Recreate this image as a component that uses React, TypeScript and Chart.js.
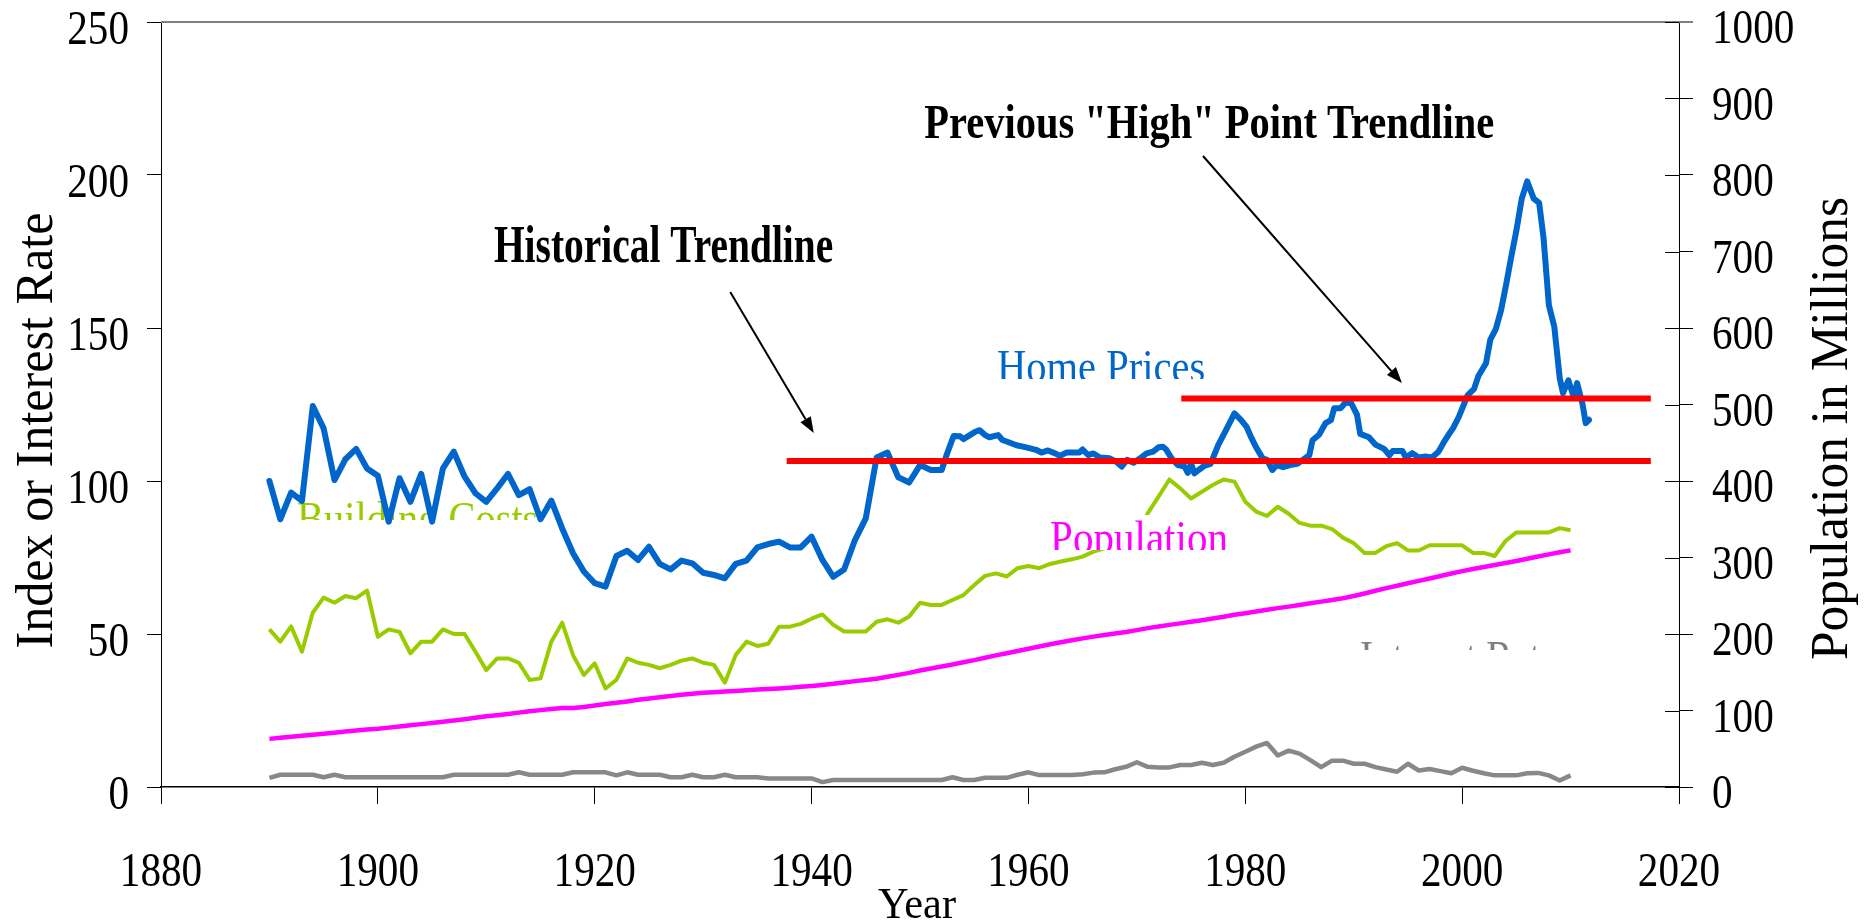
import React, { useEffect, useRef } from "react";
import { Chart, registerables } from "chart.js";

Chart.register(...registerables);

const W = 1868;
const H = 923;

// ---------- tick labels ----------
const xTicks = [1880, 1900, 1920, 1940, 1960, 1980, 2000, 2020];
const leftTicks = [0, 50, 100, 150, 200, 250];
const rightTicks = [0, 100, 200, 300, 400, 500, 600, 700, 800, 900, 1000];

// ---------- annual series 1890..2010 ----------
const annualYears = Array.from({ length: 121 }, (_, i) => 1890 + i);

const buildingCosts = [
  51.5, 47.5, 52.5, 44.2, 57.0, 61.9, 60.2, 62.4, 61.7, 64.2,
  49.1, 51.5, 50.7, 43.7, 47.5, 47.5, 51.5, 50.0, 50.0, 44.2,
  38.2, 42.0, 42.0, 40.6, 35.0, 35.5, 47.5, 53.7, 43.1, 36.6,
  40.4, 32.2, 35.0, 42.0, 40.6, 39.9, 38.8, 39.9, 41.3, 42.0,
  40.6, 39.9, 34.1, 43.1, 47.5, 46.1, 46.8, 52.4, 52.4, 53.3,
  55.0, 56.4, 53.0, 50.8, 50.8, 50.8, 54.0, 54.8, 53.7, 55.7,
  60.2, 59.5, 59.5, 61.1, 62.7, 66.0, 69.0, 69.8, 68.8, 71.5,
  72.2, 71.5, 72.9, 73.7, 74.4, 75.3, 76.9, 78.0, 79.6, 81.8,
  83.1, 89.4, 94.9, 100.5, 97.6, 94.3, 96.5, 98.7, 100.5, 99.8,
  93.2, 90.0, 88.6, 91.6, 89.3, 86.3, 85.4, 85.4, 84.3, 81.5,
  79.7, 76.5, 76.5, 78.7, 79.7, 77.3, 77.3, 79.0, 79.0, 79.0,
  79.0, 76.5, 76.5, 75.5, 80.4, 83.2, 83.2, 83.2, 83.2, 84.6, 83.9,
];

const population = [
  62.9, 64.4, 65.7, 67.0, 68.3, 69.6, 71.0, 72.4, 73.8, 75.1,
  76.1, 77.6, 79.2, 80.6, 82.2, 83.8, 85.4, 87.0, 88.7, 90.5,
  92.4, 93.9, 95.3, 97.2, 99.1, 100.5, 102.0, 103.3, 103.2, 104.5,
  106.5, 108.5, 110.0, 111.9, 114.1, 115.8, 117.4, 119.0, 120.5, 121.8,
  123.1, 124.0, 124.8, 125.6, 126.4, 127.3, 128.1, 128.8, 129.8, 130.9,
  132.1, 133.4, 134.9, 136.7, 138.4, 139.9, 141.4, 144.1, 146.6, 149.2,
  152.3, 154.9, 157.6, 160.2, 163.0, 165.9, 168.9, 172.0, 174.9, 177.8,
  180.7, 183.7, 186.5, 189.2, 191.9, 194.3, 196.6, 198.7, 200.7, 202.7,
  205.1, 207.7, 209.9, 211.9, 213.9, 216.0, 218.0, 220.2, 222.6, 225.1,
  227.2, 229.5, 231.7, 233.8, 235.8, 237.9, 240.1, 242.3, 244.5, 246.8,
  249.6, 253.0, 256.5, 259.9, 263.1, 266.3, 269.4, 272.6, 275.9, 279.0,
  282.2, 285.0, 287.6, 290.1, 292.8, 295.5, 298.4, 301.2, 304.1, 306.8, 309.3,
];

const interestRates = [
  3.0, 4.0, 4.0, 4.0, 4.0, 3.2, 4.0, 3.2, 3.2, 3.2,
  3.2, 3.2, 3.2, 3.2, 3.2, 3.2, 3.2, 4.0, 4.0, 4.0,
  4.0, 4.0, 4.0, 4.8, 4.0, 4.0, 4.0, 4.0, 4.8, 4.8,
  4.8, 4.8, 3.8, 4.8, 4.0, 4.0, 4.0, 3.2, 3.2, 4.0,
  3.2, 3.2, 4.0, 3.2, 3.2, 3.2, 2.8, 2.8, 2.8, 2.8,
  2.8, 1.6, 2.3, 2.3, 2.3, 2.3, 2.3, 2.3, 2.3, 2.3,
  2.3, 2.3, 2.3, 3.2, 2.3, 2.3, 3.0, 3.0, 3.0, 4.0,
  4.8, 3.9, 3.9, 3.9, 3.9, 4.2, 4.7, 4.8, 5.8, 6.6,
  8.1, 6.6, 6.4, 6.4, 7.2, 7.2, 7.9, 7.2, 7.9, 9.9,
  11.5, 13.2, 14.4, 10.3, 11.9, 10.9, 8.8, 6.5, 8.6, 8.6,
  7.6, 7.6, 6.5, 5.7, 5.0, 7.6, 5.4, 5.9, 5.2, 4.5,
  6.3, 5.3, 4.5, 3.8, 3.8, 3.8, 4.5, 4.6, 3.8, 2.1, 3.8,
];

// ---------- home prices (annual, then finer) ----------
const homeYears = [
  1890, 1891, 1892, 1893, 1894, 1895, 1896, 1897, 1898, 1899,
  1900, 1901, 1902, 1903, 1904, 1905, 1906, 1907, 1908, 1909,
  1910, 1911, 1912, 1913, 1914, 1915, 1916, 1917, 1918, 1919,
  1920, 1921, 1922, 1923, 1924, 1925, 1926, 1927, 1928, 1929,
  1930, 1931, 1932, 1933, 1934, 1935, 1936, 1937, 1938, 1939,
  1940, 1941, 1942, 1943, 1944, 1945, 1946, 1947, 1948, 1949,
  1950, 1951, 1952, 1952.5, 1953.1, 1953.7, 1954.0, 1954.6, 1955.1, 1955.5,
  1956.0, 1956.4, 1957.2, 1957.6, 1958.3, 1958.9, 1959.8, 1960.7, 1961.2, 1961.8,
  1962.6, 1962.9, 1963.5, 1964.7, 1965.0, 1965.5, 1966.0, 1966.6, 1967.5, 1968.1,
  1968.6, 1969.1, 1969.7, 1970.3, 1970.9, 1971.5, 1972.0, 1972.4, 1972.7, 1973.2,
  1973.8, 1974.4, 1974.7, 1975.0, 1975.3, 1975.7, 1976.2, 1976.8, 1977.5, 1978.3,
  1979.0, 1979.6, 1980.1, 1980.5, 1981.0, 1981.6, 1982.0, 1982.5, 1982.9, 1983.5,
  1984.1, 1984.8, 1985.9, 1986.2, 1986.8, 1987.4, 1987.9, 1988.2, 1988.8, 1989.3,
  1989.8, 1990.3, 1990.6, 1991.4, 1992.0, 1992.8, 1993.3, 1993.6, 1994.5, 1994.8,
  1995.4, 1996.0, 1996.6, 1997.2, 1997.8, 1998.3, 1998.8, 1999.2, 1999.7, 2000.5,
  2001.1, 2001.5, 2002.2, 2002.6, 2003.1, 2003.6, 2004.1, 2004.5, 2005.0, 2005.5,
  2006.0, 2006.6, 2007.1, 2007.5, 2008.0, 2008.5, 2009.0, 2009.3, 2009.8, 2010.3,
  2010.6, 2011.1, 2011.4, 2011.7,
];
const homePrices = [
  100.0, 87.5, 96.2, 93.5, 124.5, 117.2, 100.3, 107.1, 110.5, 104.1,
  101.7, 86.7, 100.9, 93.2, 102.3, 86.7, 104.1, 109.6, 101.4, 96.0,
  93.2, 97.6, 102.3, 95.4, 97.3, 87.5, 93.6, 84.5, 76.4, 70.4,
  66.6, 65.5, 75.5, 77.2, 74.2, 78.5, 72.9, 71.1, 74.0, 73.1,
  70.0, 69.3, 68.2, 72.9, 74.0, 78.3, 79.4, 80.2, 78.3, 78.3,
  81.8, 74.2, 68.7, 71.1, 80.7, 87.8, 107.7, 109.3, 101.2, 99.5,
  105.2, 103.6, 103.6, 109.0, 114.7, 114.6, 113.7, 115.0, 116.1, 116.6,
  115.0, 114.3, 115.0, 113.4, 112.5, 111.7, 111.0, 110.2, 109.3, 110.0,
  108.8, 108.2, 109.3, 109.3, 110.3, 108.5, 109.0, 107.7, 107.4, 106.3,
  104.7, 106.9, 106.0, 107.4, 109.0, 109.6, 111.0, 111.2, 110.3, 107.4,
  105.2, 104.7, 102.7, 105.7, 102.5, 103.6, 104.9, 105.6, 111.7, 117.2,
  122.1, 120.0, 117.8, 114.6, 111.0, 107.4, 106.9, 103.6, 105.2, 104.5,
  105.2, 105.6, 108.4, 113.3, 115.1, 118.9, 119.9, 123.8, 123.8, 125.9,
  125.2, 121.7, 115.4, 114.3, 111.9, 110.5, 108.4, 109.8, 109.8, 107.7,
  109.1, 107.7, 108.0, 107.7, 109.5, 112.6, 115.4, 117.5, 121.0, 128.0,
  130.1, 134.3, 138.5, 146.2, 149.6, 156.0, 165.0, 172.7, 181.8, 192.3,
  197.9, 192.3, 190.9, 179.7, 157.4, 150.4, 133.6, 128.7, 132.9, 127.3,
  132.0, 125.2, 118.9, 120.0,
];

// ---------- trendlines ----------
const historicalTrendYears = [1937.7, 2017.4];
const historicalTrendValues = [106.5, 106.5];
const highTrendYears = [1974.1, 2017.4];
const highTrendValues = [127.0, 127.0];

const SERIF = '"Liberation Serif", "Times New Roman", serif';
const TICK_FONT = `49px ${SERIF}`;
const TICK_SX = 0.84;

type Pt = { x: number; y: number };
const pts = (xs: number[], ys: number[]): Pt[] => xs.map((x, i) => ({ x, y: ys[i] }));

function drawScaled(
  ctx: CanvasRenderingContext2D,
  text: string,
  x: number,
  y: number,
  font: string,
  color: string,
  align: CanvasTextAlign,
  sx: number,
  rotate = 0
) {
  ctx.save();
  ctx.translate(x, y);
  if (rotate) ctx.rotate(rotate);
  ctx.scale(sx, 1);
  ctx.font = font;
  ctx.fillStyle = color;
  ctx.textAlign = align;
  ctx.textBaseline = "alphabetic";
  ctx.fillText(text, 0, 0);
  ctx.restore();
}

function fitScale(ctx: CanvasRenderingContext2D, text: string, font: string, width: number) {
  ctx.save();
  ctx.font = font;
  const w = ctx.measureText(text).width;
  ctx.restore();
  return width / w;
}

function drawArrow(ctx: CanvasRenderingContext2D, x1: number, y1: number, x2: number, y2: number) {
  const ang = Math.atan2(y2 - y1, x2 - x1);
  const headLen = 16;
  const headW = 6;
  const bx = x2 - headLen * Math.cos(ang);
  const by = y2 - headLen * Math.sin(ang);
  ctx.save();
  ctx.strokeStyle = "#000";
  ctx.lineWidth = 2;
  ctx.beginPath();
  ctx.moveTo(x1, y1);
  ctx.lineTo(bx, by);
  ctx.stroke();
  ctx.fillStyle = "#000";
  ctx.beginPath();
  ctx.moveTo(x2, y2);
  ctx.lineTo(bx + headW * Math.sin(ang), by - headW * Math.cos(ang));
  ctx.lineTo(bx - headW * Math.sin(ang), by + headW * Math.cos(ang));
  ctx.closePath();
  ctx.fill();
  ctx.restore();
}

// annotation anchors in data units (year, left-axis value)
const arrows = [
  { from: [1932.5, 161.8], to: [1940.2, 115.7] },
  { from: [1976.1, 206.2], to: [1994.45, 132.0] },
];
const boldNotes = [
  { text: "Historical Trendline", x0: 1910.7, x1: 1942.0, base: 171.6, size: 53 },
  { text: 'Previous "High" Point Trendline', x0: 1950.4, x1: 2002.95, base: 212.1, size: 48 },
];
const seriesLabels = [
  { text: "Building Costs", color: "#99CC00", x0: 1892.55, x1: 1914.8, base: 82.7, clip: 87.25, box: false, front: false },
  { text: "Home Prices", color: "#0066CC", x0: 1957.1, x1: 1976.3, base: 132.3, clip: 133.3, box: false, front: true },
  { text: "Population", color: "#FF00FF", x0: 1962.0, x1: 1978.4, base: 76.5, clip: 77.45, box: true, front: true },
  { text: "Interest Rates", color: "#808080", x0: 1990.58, x1: 2010.2, base: 37.25, clip: 44.8, box: false, front: true },
];

function drawSeriesLabel(chart: any, lab: any) {
  const { ctx, scales } = chart;
  const x = scales.x;
  const y = scales.y;
  const px0 = x.getPixelForValue(lab.x0);
  const px1 = x.getPixelForValue(lab.x1);
  const base = y.getPixelForValue(lab.base);
  const clipY = y.getPixelForValue(lab.clip);
  const font = `47px ${SERIF}`;
  const sx = fitScale(ctx, lab.text, font, px1 - px0);
  ctx.save();
  if (lab.box) {
    ctx.fillStyle = "#FFFFFF";
    ctx.fillRect(px0 - 4, base - 38, px1 - px0 + 8, clipY - (base - 38));
  }
  ctx.beginPath();
  ctx.rect(px0 - 10, 0, px1 - px0 + 20, clipY);
  ctx.clip();
  drawScaled(ctx, lab.text, px0, base, font, lab.color, "left", sx);
  ctx.restore();
}

const annotationPlugin = {
  id: "annotationText",
  beforeDatasetsDraw(chart: any) {
    seriesLabels.filter((l) => !l.front).forEach((l) => drawSeriesLabel(chart, l));
  },
  afterDatasetsDraw(chart: any) {
    const { ctx, chartArea, scales } = chart;
    const x = scales.x;
    const y = scales.y;
    const y2 = scales.y2;

    // top border
    ctx.save();
    ctx.strokeStyle = "#808080";
    ctx.lineWidth = 2;
    ctx.beginPath();
    ctx.moveTo(chartArea.left, chartArea.top);
    ctx.lineTo(chartArea.right + 14, chartArea.top);
    ctx.stroke();
    // inward half of right-axis ticks
    ctx.strokeStyle = "#000";
    ctx.lineWidth = 1;
    y2.ticks.forEach((t: any) => {
      const py = Math.round(y2.getPixelForValue(t.value)) + 0.5;
      ctx.beginPath();
      ctx.moveTo(chartArea.right - 14, py);
      ctx.lineTo(chartArea.right, py);
      ctx.stroke();
    });
    ctx.restore();

    seriesLabels.filter((l) => l.front).forEach((l) => drawSeriesLabel(chart, l));

    arrows.forEach((a) =>
      drawArrow(
        ctx,
        x.getPixelForValue(a.from[0]),
        y.getPixelForValue(a.from[1]),
        x.getPixelForValue(a.to[0]),
        y.getPixelForValue(a.to[1])
      )
    );

    boldNotes.forEach((n) => {
      const font = `bold ${n.size}px ${SERIF}`;
      const px0 = x.getPixelForValue(n.x0);
      const px1 = x.getPixelForValue(n.x1);
      const sx = fitScale(ctx, n.text, font, px1 - px0);
      drawScaled(ctx, n.text, px0, y.getPixelForValue(n.base), font, "#000", "left", sx);
    });
  },
  afterDraw(chart: any) {
    const { ctx, chartArea, scales } = chart;
    const x = scales.x;
    const y = scales.y;
    const y2 = scales.y2;

    x.ticks.forEach((t: any) =>
      drawScaled(ctx, String(t.value), x.getPixelForValue(t.value), chartArea.bottom + 99, TICK_FONT, "#000", "center", TICK_SX)
    );
    y.ticks.forEach((t: any) =>
      drawScaled(ctx, String(t.value), chartArea.left - 32, y.getPixelForValue(t.value) + 22, TICK_FONT, "#000", "right", TICK_SX)
    );
    y2.ticks.forEach((t: any) =>
      drawScaled(ctx, String(t.value), chartArea.right + 33, y2.getPixelForValue(t.value) + 21, TICK_FONT, "#000", "left", TICK_SX)
    );

    const titleFont = `52px ${SERIF}`;
    const midY = (chartArea.top + chartArea.bottom) / 2;
    const t1 = "Index or Interest Rate";
    drawScaled(ctx, t1, 52, midY + 26, titleFont, "#000", "center", fitScale(ctx, t1, titleFont, 436), -Math.PI / 2);
    const t2 = "Population in Millions";
    drawScaled(ctx, t2, 1847, midY + 24, titleFont, "#000", "center", fitScale(ctx, t2, titleFont, 463), -Math.PI / 2);
    const yearFont = `45px ${SERIF}`;
    drawScaled(ctx, "Year", (chartArea.left + chartArea.right) / 2 - 3, chartArea.bottom + 131, yearFont, "#000", "center", fitScale(ctx, "Year", yearFont, 78));
  },
};

export default function App() {
  const ref = useRef<HTMLCanvasElement>(null);

  useEffect(() => {
    document.body.style.margin = "0";
    document.body.style.overflow = "hidden";
    const canvas = ref.current;
    if (!canvas) return;

    const tickGrid = (len: number) => ({
      drawOnChartArea: false,
      drawTicks: true,
      tickLength: len,
      color: "#000",
      lineWidth: 1,
    });

    const chart = new Chart(canvas, {
      type: "line",
      data: {
        datasets: [
          {
            label: "Historical Trendline",
            data: pts(historicalTrendYears, historicalTrendValues),
            borderColor: "#FF0000",
            borderWidth: 6,
            borderCapStyle: "butt",
            yAxisID: "y",
            order: 0,
          },
          {
            label: 'Previous "High" Point Trendline',
            data: pts(highTrendYears, highTrendValues),
            borderColor: "#FF0000",
            borderWidth: 6,
            borderCapStyle: "butt",
            yAxisID: "y",
            order: 0,
          },
          {
            label: "Home Prices",
            data: pts(homeYears, homePrices),
            borderColor: "#0066CC",
            borderWidth: 6,
            borderJoinStyle: "round",
            borderCapStyle: "round",
            yAxisID: "y",
            order: 1,
          },
          {
            label: "Building Costs",
            data: pts(annualYears, buildingCosts),
            borderColor: "#99CC00",
            borderWidth: 4,
            borderJoinStyle: "round",
            yAxisID: "y",
            order: 2,
          },
          {
            label: "Population",
            data: pts(annualYears, population),
            borderColor: "#FF00FF",
            borderWidth: 4.5,
            borderJoinStyle: "round",
            yAxisID: "y2",
            order: 3,
          },
          {
            label: "Interest Rates",
            data: pts(annualYears, interestRates),
            borderColor: "#888888",
            borderWidth: 4.5,
            borderJoinStyle: "round",
            yAxisID: "y",
            order: 4,
          },
        ],
      },
      options: {
        responsive: false,
        animation: false,
        devicePixelRatio: 1,
        layout: { padding: { top: 22, left: 0, right: 0, bottom: 0 } },
        plugins: { legend: { display: false }, tooltip: { enabled: false } },
        elements: { point: { radius: 0, hoverRadius: 0 }, line: { tension: 0, fill: false } },
        scales: {
          x: {
            type: "linear",
            min: 1880,
            max: 2020,
            ticks: { display: false },
            grid: tickGrid(17),
            border: { display: true, color: "#000", width: 1.5 },
            afterBuildTicks: (s: any) => {
              s.ticks = xTicks.map((value) => ({ value }));
            },
            afterFit: (s: any) => {
              s.height = 136;
              s.paddingLeft = 0;
              s.paddingRight = 0;
            },
          },
          y: {
            type: "linear",
            position: "left",
            min: 0,
            max: 250,
            ticks: { display: false },
            grid: tickGrid(14),
            border: { display: true, color: "#000", width: 1 },
            afterBuildTicks: (s: any) => {
              s.ticks = leftTicks.map((value) => ({ value }));
            },
            afterFit: (s: any) => {
              s.width = 161;
              s.paddingTop = 0;
              s.paddingBottom = 0;
            },
          },
          y2: {
            type: "linear",
            position: "right",
            min: 0,
            max: 1000,
            ticks: { display: false },
            grid: tickGrid(14),
            border: { display: true, color: "#000", width: 1 },
            afterBuildTicks: (s: any) => {
              s.ticks = rightTicks.map((value) => ({ value }));
            },
            afterFit: (s: any) => {
              s.width = 189;
              s.paddingTop = 0;
              s.paddingBottom = 0;
            },
          },
        },
      } as any,
      plugins: [annotationPlugin],
    });

    return () => chart.destroy();
  }, []);

  return (
    <canvas
      ref={ref}
      width={W}
      height={H}
      style={{ display: "block", width: W, height: H }}
    />
  );
}
